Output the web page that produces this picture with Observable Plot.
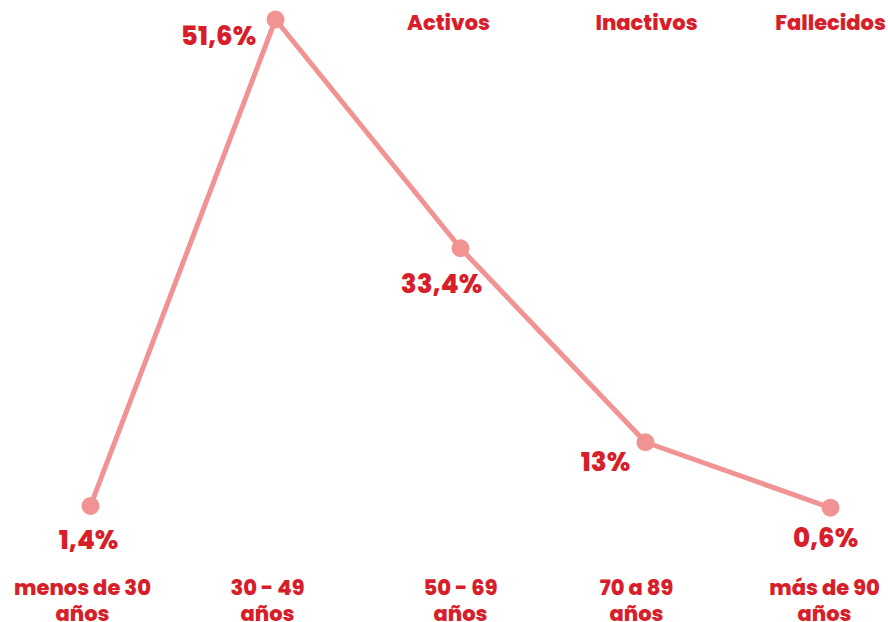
<!DOCTYPE html>
<html>
<head>
<meta charset="utf-8">
<script src="https://cdn.jsdelivr.net/npm/d3@7"></script>
<script src="https://cdn.jsdelivr.net/npm/@observablehq/plot@0.6"></script>
<style>
  html, body { margin: 0; padding: 0; background: #ffffff; }
  #chart svg { display: block; }
</style>
</head>
<body>
<div id="chart"></div>
<script>
// Age groups (x categories) and share of each group (%)
const categories = ["menos de 30\naños", "30 - 49\naños", "50 - 69\naños", "70 a 89\naños", "más de 90\naños"];
const values = [1.4, 51.6, 33.4, 13, 0.6];
const valueLabels = ["1,4%", "51,6%", "33,4%", "13%", "0,6%"];
// Status labels shown along the top
const statusLabels = ["Activos", "Inactivos", "Fallecidos"];
const statusCategories = ["50 - 69\naños", "70 a 89\naños", "más de 90\naños"];

const lineColor = "#f29393";
const textColor = "#d71f2b";
const font = "Poppins, 'Open Sans', Roboto, sans-serif";

// label offsets relative to each point (styling only)
const labelDx = [-2, -57, -19, -40, -5];
const labelDy = [35, 17, 36, 20, 31];
const statusDx = [-12, 1, 0];
const tickDx = [-8, -8, 0, -9, -6];

const rows = categories.map((c, i) => ({cat: c, value: values[i], label: valueLabels[i], dx: labelDx[i], dy: labelDy[i]}));

const chart = Plot.plot({
  width: 888,
  height: 622,
  marginTop: 19,
  marginBottom: 114,
  marginLeft: 88,
  marginRight: 57,
  style: {fontFamily: font, background: "#ffffff"},
  x: {type: "point", domain: categories, padding: 0, axis: null},
  y: {type: "pow", exponent: 1.45, domain: [0, 51.6], axis: null},
  marks: [
    ...categories.map((c, i) => Plot.text([c], {
      x: d => d,
      frameAnchor: "bottom",
      lineAnchor: "top",
      text: d => d,
      dx: tickDx[i],
      dy: 69,
      lineHeight: 1.2,
      fontSize: 21,
      fontWeight: 800,
      fill: textColor
    })),
    Plot.line(rows, {x: "cat", y: "value", stroke: lineColor, strokeWidth: 5}),
    Plot.dot(rows, {x: "cat", y: "value", r: 9, fill: lineColor, stroke: "none"}),
    ...rows.map(r => Plot.text([r], {
      x: "cat", y: "value", text: "label",
      dx: r.dx, dy: r.dy,
      fontSize: 26, fontWeight: 800, fill: textColor
    })),
    ...statusLabels.map((s, i) => Plot.text([s], {
      x: () => statusCategories[i],
      frameAnchor: "top",
      text: d => d,
      dx: statusDx[i],
      dy: -4,
      fontSize: 21, fontWeight: 800, fill: textColor
    }))
  ]
});
document.getElementById("chart").appendChild(chart);
</script>
</body>
</html>
